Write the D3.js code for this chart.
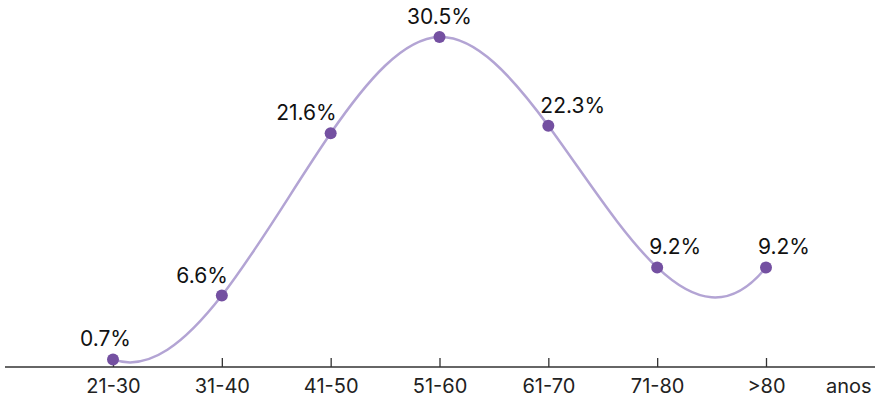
<!DOCTYPE html>
<html><head><meta charset="utf-8">
<script src="https://cdn.jsdelivr.net/npm/d3@7"></script>
<style>
html,body{margin:0;padding:0;background:#fff;}
svg{display:block;font-family:Inter,"Noto Sans",sans-serif;}
</style></head>
<body>
<svg id="chart" width="882" height="401"></svg>
<script>
const categories = ["21-30","31-40","41-50","51-60","61-70","71-80",">80"];
const values = [0.7, 6.6, 21.6, 30.5, 22.3, 9.2, 9.2];
const axisUnit = "anos";

// not-a-knot cubic spline curve factory for d3.line
function NotAKnot(context) { this._context = context; }
NotAKnot.prototype = {
  areaStart() { this._line = 0; },
  areaEnd() { this._line = NaN; },
  lineStart() { this._x = []; this._y = []; },
  point(x, y) { this._x.push(+x); this._y.push(+y); },
  lineEnd() {
    const X = this._x, Y = this._y, n = X.length, ctx = this._context;
    if (!n) return;
    ctx.moveTo(X[0], Y[0]);
    if (n < 4) { for (let i = 1; i < n; i++) ctx.lineTo(X[i], Y[i]); return; }
    const h = []; for (let i = 0; i < n - 1; i++) h.push(X[i + 1] - X[i]);
    const A = Array.from({length: n}, () => new Array(n + 1).fill(0));
    A[0][0] = -h[1]; A[0][1] = h[0] + h[1]; A[0][2] = -h[0];
    for (let i = 1; i < n - 1; i++) {
      A[i][i - 1] = h[i - 1]; A[i][i] = 2 * (h[i - 1] + h[i]); A[i][i + 1] = h[i];
      A[i][n] = 6 * ((Y[i + 1] - Y[i]) / h[i] - (Y[i] - Y[i - 1]) / h[i - 1]);
    }
    A[n - 1][n - 3] = -h[n - 2]; A[n - 1][n - 2] = h[n - 3] + h[n - 2]; A[n - 1][n - 1] = -h[n - 3];
    // gaussian elimination with pivoting
    for (let c = 0; c < n; c++) {
      let p = c;
      for (let r = c + 1; r < n; r++) if (Math.abs(A[r][c]) > Math.abs(A[p][c])) p = r;
      [A[c], A[p]] = [A[p], A[c]];
      for (let r = 0; r < n; r++) if (r !== c) {
        const f = A[r][c] / A[c][c];
        for (let k = c; k <= n; k++) A[r][k] -= f * A[c][k];
      }
    }
    const M = A.map((row, i) => row[n] / row[i]);
    for (let i = 0; i < n - 1; i++) {
      const s = (Y[i + 1] - Y[i]) / h[i];
      const m0 = s - h[i] * (2 * M[i] + M[i + 1]) / 6;
      const m1 = s + h[i] * (M[i] + 2 * M[i + 1]) / 6;
      ctx.bezierCurveTo(
        X[i] + h[i] / 3, Y[i] + m0 * h[i] / 3,
        X[i + 1] - h[i] / 3, Y[i + 1] - m1 * h[i] / 3,
        X[i + 1], Y[i + 1]);
    }
  }
};
const curveNotAKnot = ctx => new NotAKnot(ctx);

const svg = d3.select("#chart");
const axisY = 367;

const x = d3.scalePoint().domain(categories).range([113, 766]);
const y = d3.scaleLinear().domain([0, 30.5]).range([axisY, 37]);

const data = categories.map((c, i) => ({c, v: values[i], i}));

svg.append("line")
  .attr("x1", 5).attr("x2", 875)
  .attr("y1", axisY).attr("y2", axisY)
  .attr("stroke", "#333").attr("stroke-width", 1.5);

const axis = d3.axisBottom(x).tickSizeInner(-9).tickSizeOuter(0).tickPadding(0);
const gAxis = svg.append("g").attr("transform", `translate(0,${axisY})`).call(axis);
gAxis.select(".domain").remove();
gAxis.selectAll(".tick line").attr("stroke", "#333").attr("stroke-width", 1.3);
gAxis.selectAll(".tick text")
  .attr("y", 26).attr("dy", 0)
  .attr("fill", "#222")
  .style("font-size", "20px")
  .style("font-family", "Inter, 'Noto Sans', sans-serif");

svg.append("text")
  .attr("x", 826).attr("y", axisY + 26)
  .attr("fill", "#222")
  .style("font-size", "20px")
  .text(axisUnit);

const line = d3.line()
  .x(d => x(d.c))
  .y(d => y(d.v))
  .curve(curveNotAKnot);

svg.append("path")
  .datum(data)
  .attr("d", line)
  .attr("fill", "none")
  .attr("stroke", "#b3a4d4")
  .attr("stroke-width", 2.5);

svg.selectAll("circle.pt")
  .data(data).enter().append("circle")
  .attr("class", "pt")
  .attr("cx", d => x(d.c))
  .attr("cy", d => y(d.v))
  .attr("r", 6)
  .attr("fill", "#7450a1");

const maxIdx = d3.maxIndex(values);
svg.selectAll("text.lbl")
  .data(data).enter().append("text")
  .attr("class", "lbl")
  .attr("x", d => {
    if (d.i === maxIdx) return x(d.c);
    if (d.i < maxIdx) return x(d.c) + (d.i === 0 ? 18 : 6);
    return x(d.c) - 8;
  })
  .attr("y", d => y(d.v) - 13)
  .attr("text-anchor", d => d.i === maxIdx ? "middle" : (d.i < maxIdx ? "end" : "start"))
  .attr("fill", "#111")
  .style("font-size", "21px")
  .text(d => d.v.toFixed(1) + "%");
</script>
</body></html>
